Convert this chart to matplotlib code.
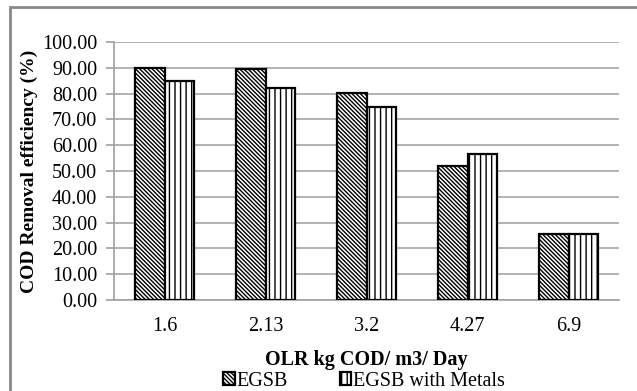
import matplotlib
matplotlib.use("Agg")
import matplotlib.pyplot as plt
import numpy as np
from matplotlib.patches import Rectangle

categories = ["1.6", "2.13", "3.2", "4.27", "6.9"]
egsb = [90.0, 89.5, 80.4, 52.0, 25.6]
egsb_metals = [85.0, 82.3, 75.0, 56.5, 25.6]
yticks = [0, 10, 20, 30, 40, 50, 60, 70, 80, 90, 100]

plt.rcParams['font.family'] = ['Liberation Serif', 'DejaVu Serif']
plt.rcParams['hatch.linewidth'] = 1.0

fs = 14.5
fig = plt.figure(figsize=(6.37, 3.91), dpi=100)
ax = fig.add_axes([114/637, 1 - 300/391, (619-114)/637, (300-42)/391])

x = np.arange(len(categories))
w = 0.29
b1 = ax.bar(x - w/2, egsb, w, color='white', edgecolor='black', linewidth=1.6,
            hatch='\\\\\\\\\\\\\\\\', label='EGSB', zorder=3)
b2 = ax.bar(x + w/2, egsb_metals, w, color='white', edgecolor='black', linewidth=1.6,
            hatch='|||', label='EGSB with Metals', zorder=3)

ax.set_xlim(-0.5, len(categories) - 0.5)
ax.set_ylim(0, 100)
ax.set_yticks(yticks)
ax.set_yticklabels([f"{v:.2f}" for v in yticks], fontsize=fs)
ax.set_xticks(x)
ax.set_xticklabels(categories, fontsize=fs)
ax.tick_params(axis='x', length=0, pad=12)
ax.tick_params(axis='y', length=6, color='#a0a0a0', width=1.2, pad=6)

ax.grid(axis='y', color='#a6a6a6', linewidth=1.2, zorder=0)
for s in ['top', 'right']:
    ax.spines[s].set_visible(False)
ax.spines['left'].set_color('#a0a0a0')
ax.spines['bottom'].set_color('#a0a0a0')
ax.spines['left'].set_linewidth(1.2)
ax.spines['bottom'].set_linewidth(1.2)

ax.set_ylabel("COD Removal efficiency (%)", fontsize=fs - 0.5, fontweight='bold', labelpad=3)
ax.set_xlabel("OLR kg COD/ m3/ Day", fontsize=fs, fontweight='bold', labelpad=10)

leg = fig.legend(handles=[b1, b2], loc='lower center', bbox_to_anchor=(0.572, -0.035),
                 ncol=2, frameon=False, fontsize=fs, handlelength=0.55, handleheight=0.55,
                 columnspacing=2.6, handletextpad=0.1, borderaxespad=0.3)

fig.patches.append(Rectangle((9.5/637, -0.1), 2.0, 1.1 - 7.5/391 + 0.0,
                             transform=fig.transFigure, fill=False,
                             edgecolor='#888888', linewidth=2.0))

fig.savefig("out.png", dpi=100)
